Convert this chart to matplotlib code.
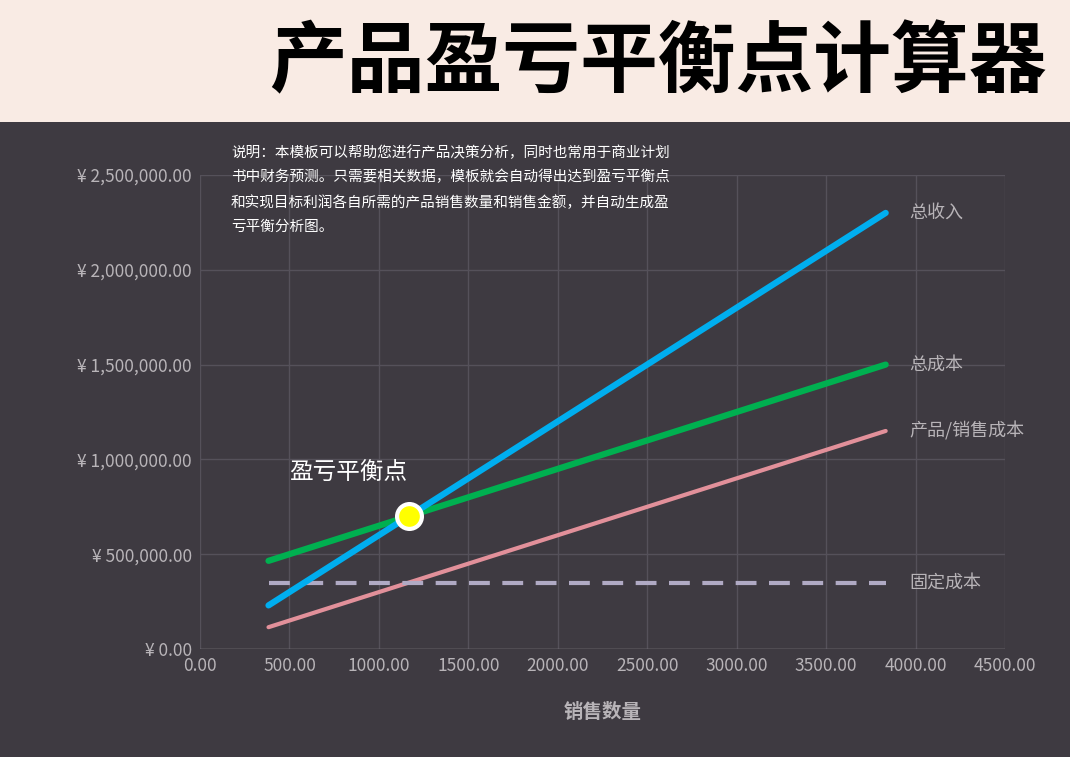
import matplotlib
matplotlib.use("Agg")
import matplotlib.pyplot as plt

plt.rcParams['font.family'] = ['Noto Sans CJK SC', 'DejaVu Sans']

# data
qty = [383, 3833]
revenue = [230000, 2300000]
total_cost = [465000, 1500000]
var_cost = [115000, 1150000]
fixed_cost = [350000, 350000]
breakeven = (1167, 700000)
series_labels = ["总收入", "总成本", "产品/销售成本", "固定成本"]

fig = plt.figure(figsize=(10.7, 7.57), dpi=100)
fig.patch.set_facecolor("#3e3a41")
band = fig.add_axes([0, 1 - 122 / 757, 1, 122 / 757])
band.set_facecolor("#f9ebe4")
band.set_xticks([]); band.set_yticks([])
for s in band.spines.values():
    s.set_visible(False)
fig.text(0.978, 1 - 64 / 757, "产品盈亏平衡点计算器", ha="right", va="center",
         fontsize=56, fontweight="black", color="black")

ax = fig.add_axes([200 / 1070, 108 / 757, 805 / 1070, 474 / 757])
ax.set_facecolor("#3e3a41")
ax.set_xlim(0, 4500)
ax.set_ylim(0, 2500000)
ax.set_xticks(range(0, 4501, 500))
ax.set_xticklabels([f"{v:.2f}" for v in range(0, 4501, 500)])
ax.set_yticks(range(0, 2500001, 500000))
ax.set_yticklabels([f"¥ {v:,.2f}" for v in range(0, 2500001, 500000)])
ax.tick_params(colors="#b8b4b8", labelsize=12.5, length=0, pad=6)
ax.grid(color="#55515a", lw=1)
for s in ax.spines.values():
    s.set_visible(False)
ax.axhline(0, color="#8a868c", lw=1)

ax.plot(qty, var_cost, color="#e2909a", lw=3, solid_capstyle="round")
ax.plot(qty, fixed_cost, color="#b0aac4", lw=3, ls=(0, (5, 3)))
ax.plot(qty, total_cost, color="#00b050", lw=4.5, solid_capstyle="round")
ax.plot(qty, revenue, color="#00aeef", lw=4.5, solid_capstyle="round")
ax.scatter([breakeven[0]], [breakeven[1]], s=320, color="#ffff00",
           edgecolor="white", linewidth=3, zorder=5)
ax.text(830, 930000, "盈亏平衡点", color="white", fontsize=17, style="italic",
        ha="center", va="center")

for lbl, ys in zip(series_labels, [revenue, total_cost, var_cost, fixed_cost]):
    ax.text(qty[-1] + 130, ys[-1], lbl, color="#b8b4b8", fontsize=13, va="center")

ax.set_xlabel("销售数量", color="#b8b4b8", fontsize=14, fontweight="bold", labelpad=20)

note = ("说明：本模板可以帮助您进行产品决策分析，同时也常用于商业计划\n"
        "书中财务预测。只需要相关数据，模板就会自动得出达到盈亏平衡点\n"
        "和实现目标利润各自所需的产品销售数量和销售金额，并自动生成盈\n"
        "亏平衡分析图。")
fig.text(231 / 1070, 1 - 145 / 757, note, color="white", fontsize=10.5,
         va="top", ha="left", linespacing=1.9)

fig.savefig("out.png", dpi=100, facecolor=fig.get_facecolor())
